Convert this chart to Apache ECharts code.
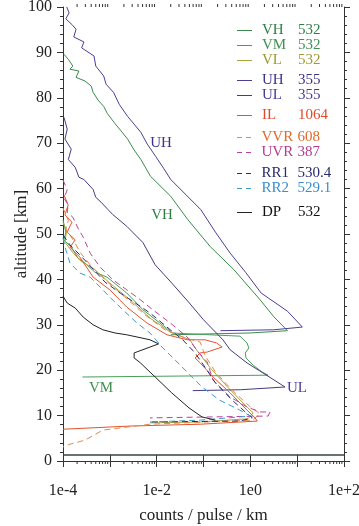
<!DOCTYPE html>
<html>
<head>
<meta charset="utf-8">
<script src="https://cdn.jsdelivr.net/npm/echarts/dist/echarts.min.js"></script>
<style>
  html, body { margin: 0; padding: 0; background: #fff; }
  #main { width: 359px; height: 526px; }
</style>
</head>
<body>
<div id="main"></div>
<script>
// profiles: [counts / pulse / km, altitude km]
const VH = [[1.05e-4, 89.6], [1.29e-4, 88.5], [1.62e-4, 87.0], [1.41e-4, 86.3], [2.19e-4, 85.9], [1.9e-4, 84.5],
  [2.95e-4, 83.7], [4.0e-4, 82.6], [4.4e-4, 81.2], [5.6e-4, 79.5], [7.4e-4, 78.1], [8.9e-4, 76.5], [1.23e-3, 74.6],
  [1.8e-3, 72.5], [2.4e-3, 70.9], [3.3e-3, 68.5], [4.6e-3, 66.4], [7.4e-3, 62.7], [2.0e-2, 58.3], [4.6e-2, 53.2],
  [0.14, 47.2], [0.44, 42.2], [1.62, 35.5], [3.16, 31.8], [6.2, 28.7], [1.0, 28.2], [2.0e-2, 27.8]];
const VM = [[1.0e-4, 53.1], [1.15e-4, 50.4], [1.05e-4, 48.7], [1.55e-4, 46.9], [2.09e-4, 44.7], [2.95e-4, 43.6],
  [4.8e-4, 41.6], [8.7e-4, 40.5], [2.3e-3, 37.0], [5.1e-3, 33.3], [1.17e-2, 30.4], [2.2e-2, 28.2], [5.1e-2, 28.0],
  [0.6, 27.5], [0.85, 26.0], [0.93, 24.9], [0.78, 23.8], [0.81, 22.7], [1.15, 21.1], [1.78, 19.6], [2.4, 18.9],
  [2.6e-4, 18.5]];
const VL = [[1.0e-4, 52.5], [1.2e-4, 50.8], [1.1e-4, 48.2], [1.6e-4, 46.0], [2.3e-4, 44.2], [4.8e-4, 42.1],
  [1.0e-3, 39.2], [2.7e-3, 35.5], [7.2e-3, 31.5], [1.95e-2, 28.4], [5.1e-2, 26.7], [7.2e-2, 24.4], [0.14, 20.5],
  [0.34, 16.1], [0.78, 12.3], [1.15, 10.6], [0.89, 9.3], [8.5e-2, 8.6], [7.2e-3, 8.4]];
const UH = [[1.2e-4, 100], [1.35e-4, 98.7], [1.15e-4, 97.4], [1.6e-4, 96.0], [1.9e-4, 95.1], [1.7e-4, 93.4],
  [2.8e-4, 92.3], [2.5e-4, 91.0], [4.6e-4, 89.2], [5.0e-4, 87.0], [7.4e-4, 84.8], [8.3e-4, 83.0], [1.2e-3, 81.2],
  [1.6e-3, 78.5], [2.4e-3, 75.9], [4.6e-3, 72.4], [6.3e-3, 69.8], [9.5e-3, 67.1], [1.4e-2, 64.5], [2.0e-2, 62.0],
  [8.7e-2, 55.4], [0.18, 50.4], [0.37, 45.8], [0.8, 41.5], [1.7, 37.0], [6.2, 33.0], [12.9, 29.5], [3.16, 28.9],
  [0.23, 28.7]];
const UL = [[1.05e-4, 75.7], [1.23e-4, 73.1], [1.1e-4, 70.9], [1.5e-4, 68.7], [1.3e-4, 66.4], [1.82e-4, 64.7],
  [2.19e-4, 62.5], [2.8e-4, 62.0], [4.4e-4, 59.8], [5.0e-4, 58.1], [6.5e-4, 57.0], [9.1e-4, 55.4], [1.15e-3, 54.3],
  [2.3e-3, 51.7], [5.1e-3, 48.1], [9.3e-3, 43.2], [2.1e-2, 39.2], [4.8e-2, 35.0], [0.1, 31.1], [0.26, 26.7],
  [0.37, 24.5], [0.85, 21.6], [1.86, 19.4], [5.5, 16.3], [0.62, 15.7], [5.9e-2, 15.5]];
const IL = [[1.05e-4, 58.6], [1.29e-4, 56.4], [1.1e-4, 54.2], [1.55e-4, 52.6], [1.23e-4, 50.4], [1.82e-4, 48.7],
  [1.41e-4, 47.1], [2.29e-4, 44.9], [4.4e-4, 40.5], [1.0e-3, 37.7], [2.3e-3, 33.9], [6.2e-3, 30.4], [1.66e-2, 27.8],
  [4.5e-2, 26.7], [0.107, 26.7], [0.19, 26.0], [0.25, 25.1], [0.12, 24.0], [8.5e-2, 23.8], [6.6e-2, 22.7],
  [8.5e-2, 21.6], [0.16, 18.5], [0.37, 15.0], [0.85, 11.2], [1.26, 9.5], [1.41, 8.8], [8.5e-2, 8.1], [2.7e-3, 7.7],
  [1.0e-4, 7.0]];
const VVR = [[1.0e-4, 55.7], [1.3e-4, 53.0], [1.15e-4, 51.0], [1.7e-4, 48.5], [2.3e-4, 46.0], [3.8e-4, 43.2],
  [7.9e-4, 39.9], [2.1e-3, 36.1], [5.6e-3, 32.2], [1.5e-2, 28.9], [4.1e-2, 27.1], [8.5e-2, 26.2], [0.107, 23.3],
  [0.18, 19.6], [0.41, 15.6], [1.0, 11.9], [1.62, 10.4], [1.1, 9.0], [7.2e-3, 8.1], [7.1e-4, 6.8], [2.95e-4, 4.6],
  [1.41e-4, 3.7], [1.0e-4, 3.1]];
const UVR = [[1.0e-4, 61.9], [1.23e-4, 59.7], [1.05e-4, 57.9], [1.29e-4, 56.4], [1.23e-4, 54.8], [1.62e-4, 53.7],
  [2.09e-4, 51.3], [2.7e-4, 49.3], [3.8e-4, 45.8], [6.2e-4, 42.7], [1.17e-3, 39.9], [2.3e-3, 37.7], [4.5e-3, 35.5],
  [8.3e-3, 33.3], [1.95e-2, 30.4], [4.5e-2, 27.3], [7.2e-2, 24.4], [0.12, 21.8], [0.16, 17.8], [0.37, 14.1],
  [0.85, 11.9], [1.62, 10.8], [2.63, 10.8], [2.4, 9.9], [7.2e-3, 9.5]];
const RR1 = [[1.0e-4, 49.8], [1.41e-4, 47.6], [2.29e-4, 45.4], [4.2e-4, 42.5], [7.9e-4, 39.4], [1.66e-3, 37.0],
  [3.5e-3, 34.8], [7.2e-3, 32.6], [1.66e-2, 29.5], [3.6e-2, 26.7], [6.6e-2, 23.8], [0.107, 20.7], [0.18, 17.2],
  [0.41, 13.4], [0.78, 10.8], [1.1, 9.5], [0.6, 8.8], [7.2e-3, 8.6]];
const RR2 = [[1.0e-4, 49.1], [1.15e-4, 46.5], [1.41e-4, 43.6], [2.29e-4, 41.4], [3.8e-4, 40.5], [6.2e-4, 38.3],
  [1.0e-3, 36.1], [1.9e-3, 33.3], [3.8e-3, 30.4], [7.2e-3, 28.2], [1.3e-2, 25.1], [3.5e-2, 20.7], [9.3e-2, 16.3],
  [0.22, 13.4], [0.6, 11.2], [1.0, 9.9], [8.5e-2, 9.0], [7.2e-3, 8.6]];
const DP = [[1.0e-4, 36.3], [1.23e-4, 34.8], [1.41e-4, 34.4], [1.82e-4, 33.7], [2.7e-4, 31.7], [4.4e-4, 30.0],
  [7.1e-4, 28.9], [1.29e-3, 28.2], [2.3e-3, 27.8], [7.2e-3, 26.7], [1.1e-2, 25.8], [7.2e-3, 25.1], [3.3e-3, 23.8],
  [3.3e-3, 22.7], [4.5e-3, 21.6], [9.3e-3, 18.5], [2.1e-2, 15.0], [4.9e-2, 11.7], [9.3e-2, 9.7], [0.18, 9.0]];
const ground = [[1e-4, 1.3], [1e2, 1.3]];

const wavelengths = { VH: '532', VM: '532', VL: '532', UH: '355', UL: '355', IL: '1064',
  VVR: '608', UVR: '387', RR1: '530.4', RR2: '529.1', DP: '532' };
const legendGroups = [['VH', 'VM', 'VL'], ['UH', 'UL'], ['IL'], ['VVR', 'UVR'], ['RR1', 'RR2'], ['DP']];
const curveLabels = [['UH', 161, 143], ['VH', 162, 215], ['VM', 101, 388], ['UL', 297, 388]];

// minor log ticks 2..9 per decade
const minorTickValues = [];
for (let d = -4; d < 2; d++) {
  for (let m = 2; m < 10; m++) minorTickValues.push([m * Math.pow(10, d), 0]);
}

const colors = {
  VH: '#3c8a4e', VM: '#4a9d5c', VL: '#aaa43e', UH: '#4a3f96', UL: '#463c80', IL: '#e2532f',
  VVR: '#e8884a', UVR: '#c0409e', RR1: '#2c2c6e', RR2: '#3c9ad4', DP: '#222222'
};
const textColors = {
  VH: '#2f7f45', VM: '#3e9050', VL: '#a09a30', UH: '#3a348a', UL: '#4a3a95', IL: '#e04a2a',
  VVR: '#e06a2a', UVR: '#b43a94', RR1: '#2a2a6a', RR2: '#3a8ed0', DP: '#111111'
};
const dashed = ['VVR', 'UVR', 'RR1', 'RR2'];
const profiles = { VH, VM, VL, UH, UL, IL, VVR, UVR, RR1, RR2, DP };

// legend line icons; the tiny corner dots only fix the icon's bounding box
const solidIcon = 'path://M0,0h0.01v0.01h-0.01z M0,14h0.01v0.01h-0.01z M0,6.5h15v1.1h-15z';
const dashIcon = 'path://M0,0h0.01v0.01h-0.01z M0,14h0.01v0.01h-0.01z M0,6.5h5v1.1h-5z M9,6.5h5v1.1h-5z';

const serif = '"Liberation Serif", "DejaVu Serif", serif';
const axisColor = '#333';

const series = Object.keys(profiles).map(name => ({
  name: name,
  type: 'line',
  data: profiles[name],
  symbol: 'none',
  color: colors[name],
  lineStyle: { width: 1, color: colors[name], type: dashed.includes(name) ? [6, 4] : 'solid' },
  animation: false
}));
series.push({
  name: 'ground', type: 'line', data: ground, symbol: 'none',
  lineStyle: { width: 1.5, color: '#34443a' }, animation: false
});
series.push({
  name: 'minorTicks',
  type: 'custom',
  data: minorTickValues,
  silent: true,
  clip: false,
  animation: false,
  renderItem: (params, api) => {
    const v = api.value(0);
    const b = api.coord([v, 0]);
    const t = api.coord([v, 100]);
    const style = { stroke: axisColor, lineWidth: 1 };
    return {
      type: 'group',
      children: [
        { type: 'line', shape: { x1: b[0], y1: b[1], x2: b[0], y2: b[1] + 3 }, style: style },
        { type: 'line', shape: { x1: t[0], y1: t[1], x2: t[0], y2: t[1] - 3 }, style: style }
      ]
    };
  }
});

const legendTops = [23, 73, 108, 130, 166, 205];
const legends = legendGroups.map((group, i) => ({
  top: legendTops[i],
  left: 237,
  padding: 0,
  orient: 'vertical',
  itemWidth: 15,
  itemHeight: 14,
  itemGap: 0,
  selectedMode: false,
  data: group.map(n => ({
    name: n,
    icon: dashed.includes(n) ? dashIcon : solidIcon,
    itemStyle: { color: colors[n], borderWidth: 0 },
    textStyle: { color: textColors[n] }
  })),
  formatter: n => '{n|' + n + '}{v|' + wavelengths[n] + '}',
  textStyle: {
    fontFamily: serif, fontSize: 15, lineHeight: 14,
    rich: { n: { width: 36, padding: [0, 0, 0, 5] }, v: {} }
  }
}));

const logFmt = v => {
  const e = Math.round(Math.log10(v));
  if (e % 2 !== 0) return '';
  return '1e' + (e > 0 ? '+' + e : e);
};

const xBase = {
  type: 'log', logBase: 10, min: 1e-4, max: 1e2, interval: 1,
  axisLine: { lineStyle: { color: axisColor, width: 1 } },
  axisTick: { length: 6, lineStyle: { color: axisColor } },
  splitLine: { show: false }
};
const yBase = {
  type: 'value', min: 0, max: 100, interval: 10,
  axisLine: { show: true, lineStyle: { color: axisColor, width: 1 } },
  axisTick: { length: 6, lineStyle: { color: axisColor } },
  minorTick: { show: true, splitNumber: 5, length: 3, lineStyle: { color: axisColor } },
  splitLine: { show: false }
};

const option = {
  backgroundColor: '#fff',
  animation: false,
  grid: { left: 63, right: 15, top: 7, bottom: 65, containLabel: false, outerBoundsMode: 'none' },
  legend: legends,
  xAxis: [
    Object.assign({}, xBase, {
      position: 'bottom',
      name: 'counts / pulse / km', nameLocation: 'middle', nameGap: 46, nameMoveOverlap: false,
      nameTextStyle: { fontFamily: serif, fontSize: 17, color: '#222' },
      axisLabel: { formatter: logFmt, fontFamily: serif, fontSize: 16, color: '#222', margin: 22, showMaxLabel: true }
    }),
    Object.assign({}, xBase, { position: 'top', axisLabel: { show: false } })
  ],
  yAxis: [
    Object.assign({}, yBase, {
      position: 'left',
      name: 'altitude [km]', nameLocation: 'middle', nameGap: 33, nameMoveOverlap: false,
      nameTextStyle: { fontFamily: serif, fontSize: 17, color: '#222' },
      axisLabel: { fontFamily: serif, fontSize: 16, color: '#222', margin: 11 }
    }),
    Object.assign({}, yBase, { position: 'right', axisLabel: { show: false } })
  ],
  graphic: curveLabels.map(([t, x, y]) => ({
    type: 'text', x: x, y: y,
    style: { text: t, fill: textColors[t], font: '15px ' + serif, textAlign: 'center', textVerticalAlign: 'middle' }
  })),
  series: series
};

const chart = echarts.init(document.getElementById('main'));
chart.setOption(option);
</script>
</body>
</html>
